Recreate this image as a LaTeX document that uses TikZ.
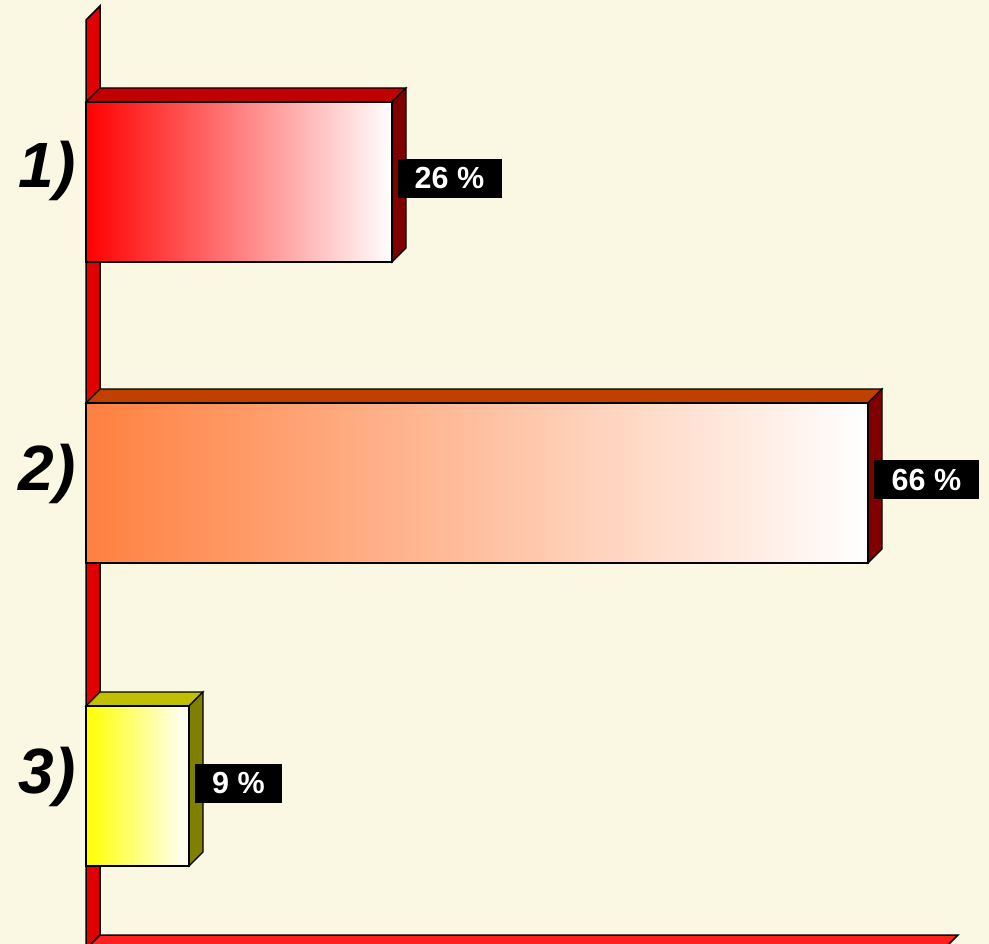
\documentclass[tikz,border=0pt]{standalone}
\usepackage{fontspec}
\setmainfont{Liberation Sans}
\usepackage{xcolor}

\definecolor{bgcream}{HTML}{FAF8E2}
\definecolor{wallred}{HTML}{E00000}
\definecolor{floorred}{HTML}{FF2020}
\definecolor{topA}{HTML}{C00000}
\definecolor{sideA}{HTML}{800000}
\definecolor{frontA}{HTML}{FF0000}
\definecolor{topB}{HTML}{C04000}
\definecolor{sideB}{HTML}{800000}
\definecolor{frontB}{HTML}{FF8040}
\definecolor{topC}{HTML}{C0C000}
\definecolor{sideC}{HTML}{808000}
\definecolor{frontC}{HTML}{FFFF00}

\begin{document}
\begin{tikzpicture}[x=1pt,y=-1pt,line width=1.1pt,
    pct/.style={fill=black,text=white,inner sep=0pt,minimum height=39pt,
        font=\fontsize{30.5}{30.5}\selectfont\bfseries},
    cat/.style={anchor=base east,inner sep=0pt,
        font=\fontsize{64}{64}\selectfont\bfseries\itshape}]
    \useasboundingbox[fill=bgcream] (0,0) rectangle (989,944);

    % wall and floor
    \draw[fill=wallred,line width=1.5pt] (86,949) -- (86,20) -- (100,6) -- (100,935) -- cycle;
    \draw[fill=floorred,line width=1.5pt] (86,949) -- (100,935) -- (958,935) -- (944,949) -- cycle;

    % bar 1
    \draw[fill=topA] (86,102) -- (100,88) -- (406,88) -- (392,102) -- cycle;
    \draw[fill=sideA] (392,102) -- (406,88) -- (406,248) -- (392,262) -- cycle;
    \shade[left color=frontA,right color=white] (86,102) rectangle (392,262);
    \draw (86,102) rectangle (392,262);

    % bar 2
    \draw[fill=topB] (86,403) -- (100,389) -- (882,389) -- (868,403) -- cycle;
    \draw[fill=sideB] (868,403) -- (882,389) -- (882,549) -- (868,563) -- cycle;
    \shade[left color=frontB,right color=white] (86,403) rectangle (868,563);
    \draw (86,403) rectangle (868,563);

    % bar 3
    \draw[fill=topC] (86,706) -- (100,692) -- (203,692) -- (189,706) -- cycle;
    \draw[fill=sideC] (189,706) -- (203,692) -- (203,852) -- (189,866) -- cycle;
    \shade[left color=frontC,right color=white] (86,706) rectangle (189,866);
    \draw (86,706) rectangle (189,866);

    \node[pct,minimum width=104pt] (p1) at (449.5,178.5) {26 \%};
    \node[pct,minimum width=105pt] (p2) at (926.5,479.5) {66 \%};
    \node[pct,minimum width=87pt] (p3) at (238.5,783) {9 \%};

    \node[cat] (c1) at (76,188) {1)};
    \node[cat] (c2) at (76,490) {2)};
    \node[cat] (c3) at (76,793) {3)};
\end{tikzpicture}
\end{document}
